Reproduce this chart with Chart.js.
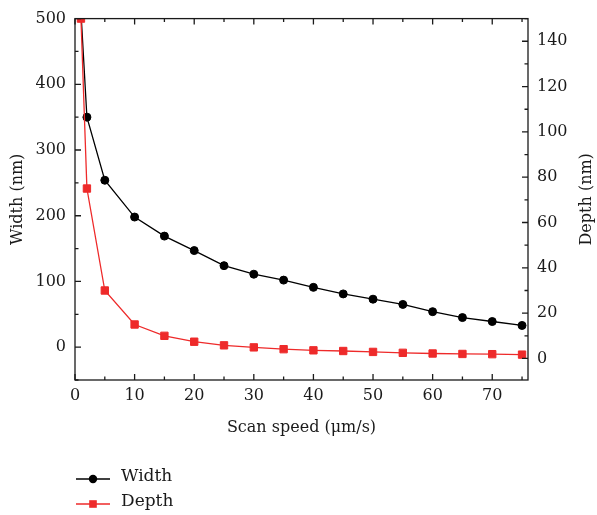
<!DOCTYPE html>
<html>
<head>
<meta charset="utf-8">
<script src="https://cdn.jsdelivr.net/npm/chart.js@4.4.1/dist/chart.umd.min.js"></script>
<style>
  body { margin: 0; background: #fff; }
  #wrap { width: 597px; height: 515px; position: relative; }
</style>
</head>
<body>
<div id="wrap"><canvas id="chart"></canvas></div>
<script>
// scan speed (um/s)
const speeds = [1, 2, 5, 10, 15, 20, 25, 30, 35, 40, 45, 50, 55, 60, 65, 70, 75];
// width (nm), left axis
const widthValues = [510, 350, 254, 198, 169, 147, 124, 111, 102, 91, 81, 73, 65, 54, 45, 39, 33];
// depth (nm), right axis
const depthValues = [150, 75, 30, 15, 10, 7.4, 5.8, 4.9, 4.1, 3.6, 3.3, 2.9, 2.5, 2.2, 2.0, 1.9, 1.7];

const speedTicks = [0, 10, 20, 30, 40, 50, 60, 70];
const widthTicks = [0, 100, 200, 300, 400, 500];
const depthTicks = [0, 20, 40, 60, 80, 100, 120, 140];

const FONT = 'DejaVu Serif';
const RED = '#ee2a2a';
const INK = '#1a1a1a';

const toPoints = vals => vals.map((v, i) => ({ x: speeds[i], y: v }));

// frame with inward major + minor ticks, and the right title read bottom-to-top
const frameTicks = {
  id: 'frameTicks',
  afterDatasetsDraw(chart) {
    const { ctx, chartArea: a, scales } = chart;
    ctx.save();
    ctx.strokeStyle = INK;
    ctx.lineWidth = 1.3;
    ctx.strokeRect(a.left, a.top, a.right - a.left, a.bottom - a.top);

    const each = (scale, list, fn) => {
      const half = (list[1] - list[0]) / 2;
      let v = Math.ceil(scale.min / half) * half;
      for (; v <= scale.max + 1e-9; v += half) {
        const major = Math.abs(v / (half * 2) - Math.round(v / (half * 2))) < 1e-6;
        fn(scale.getPixelForValue(v), major ? 6 : 3.5);
      }
    };
    ctx.beginPath();
    each(scales.x, speedTicks, (p, len) => {
      ctx.moveTo(p, a.bottom); ctx.lineTo(p, a.bottom - len);
      ctx.moveTo(p, a.top); ctx.lineTo(p, a.top + len);
    });
    each(scales.y, widthTicks, (p, len) => {
      ctx.moveTo(a.left, p); ctx.lineTo(a.left + len, p);
    });
    each(scales.y1, depthTicks, (p, len) => {
      ctx.moveTo(a.right, p); ctx.lineTo(a.right - len, p);
    });
    ctx.stroke();
    ctx.restore();
  },
  afterDraw(chart) {
    const { ctx, chartArea: a } = chart;
    ctx.save();
    ctx.fillStyle = INK;
    ctx.font = '16px "' + FONT + '"';
    ctx.textAlign = 'center';
    ctx.textBaseline = 'middle';
    ctx.translate(587, (a.top + a.bottom) / 2);
    ctx.rotate(-Math.PI / 2);
    ctx.fillText('Depth (nm)', 0, 0);
    ctx.restore();

    // legend, stacked at the lower left
    ctx.save();
    ctx.font = '17px "' + FONT + '"';
    ctx.textBaseline = 'middle';
    chart.data.datasets.forEach((ds, i) => {
      const y = 479 + i * 25;
      ctx.strokeStyle = ds.borderColor;
      ctx.lineWidth = 1.3;
      ctx.beginPath();
      ctx.moveTo(76, y); ctx.lineTo(110, y);
      ctx.stroke();
      ctx.fillStyle = ds.backgroundColor;
      if (ds.pointStyle === 'rect') {
        ctx.fillRect(93 - 3.8, y - 3.8, 7.6, 7.6);
      } else {
        ctx.beginPath();
        ctx.arc(93, y, 4.2, 0, Math.PI * 2);
        ctx.fill();
      }
      ctx.fillStyle = INK;
      ctx.fillText(ds.label, 121, y - 2);
    });
    ctx.restore();
  }
};

new Chart(document.getElementById('chart'), {
  type: 'line',
  data: {
    datasets: [
      {
        label: 'Width',
        data: toPoints(widthValues),
        yAxisID: 'y',
        borderColor: '#000',
        backgroundColor: '#000',
        borderWidth: 1.3,
        pointStyle: 'circle',
        pointRadius: 4,
        pointBorderWidth: 1,
        order: 2
      },
      {
        label: 'Depth',
        data: toPoints(depthValues),
        yAxisID: 'y1',
        borderColor: RED,
        backgroundColor: RED,
        borderWidth: 1.3,
        pointStyle: 'rect',
        pointRadius: 5.2,
        pointBorderWidth: 1,
        order: 1
      }
    ]
  },
  options: {
    responsive: true,
    maintainAspectRatio: false,
    animation: false,
    layout: { padding: { top: 15, bottom: 78 } },
    plugins: {
      legend: { display: false },
      tooltip: { enabled: false }
    },
    scales: {
      x: {
        type: 'linear',
        position: 'bottom',
        min: 0,
        max: 76,
        afterBuildTicks: s => { s.ticks = speedTicks.map(v => ({ value: v })); },
        afterFit: s => { s.height = 57; },
        grid: { display: false, drawTicks: false },
        border: { display: false },
        ticks: { color: INK, padding: 6, font: { family: FONT, size: 16 } },
        title: {
          display: true,
          text: 'Scan speed (μm/s)',
          color: INK,
          font: { family: FONT, size: 16 },
          padding: { top: 1, bottom: 0 }
        }
      },
      y: {
        position: 'left',
        min: -50,
        max: 500,
        afterBuildTicks: s => { s.ticks = widthTicks.map(v => ({ value: v })); },
        afterFit: s => { s.width = 75; },
        grid: { display: false, drawTicks: false },
        border: { display: false },
        ticks: { color: INK, padding: 9, font: { family: FONT, size: 16 } },
        title: {
          display: true,
          text: 'Width (nm)',
          color: INK,
          font: { family: FONT, size: 16 },
          padding: { top: 8, bottom: 0 }
        }
      },
      y1: {
        position: 'right',
        min: -9.5,
        max: 150,
        afterBuildTicks: s => { s.ticks = depthTicks.map(v => ({ value: v })); },
        afterFit: s => { s.width = 69; },
        grid: { display: false, drawTicks: false },
        border: { display: false },
        ticks: { color: INK, padding: 9, font: { family: FONT, size: 16 } }
      }
    }
  },
  plugins: [frameTicks]
});
</script>
</body>
</html>
